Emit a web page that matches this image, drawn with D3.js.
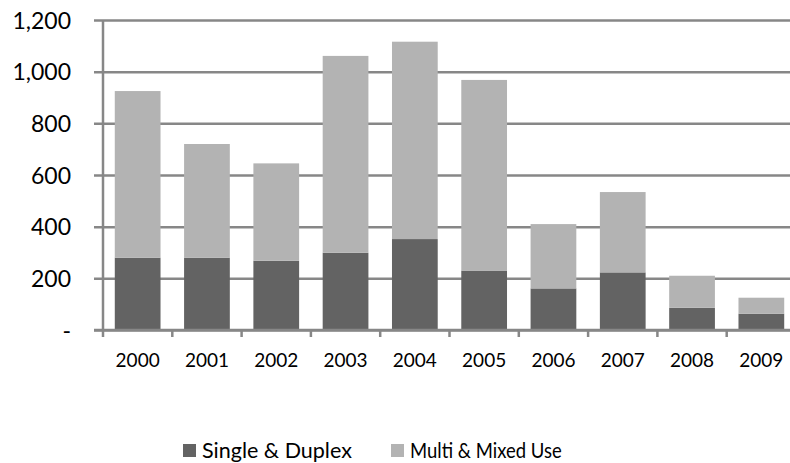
<!DOCTYPE html>
<html>
<head>
<meta charset="utf-8">
<script src="https://cdn.jsdelivr.net/npm/d3@7"></script>
<style>
  html, body { margin: 0; padding: 0; background: #fff; }
  svg { display: block; }
  text { font-family: Lato, "Open Sans", sans-serif; fill: #000; }
</style>
</head>
<body>
<svg id="chart" width="790" height="463"></svg>
<script>
// Permits by year, split by housing type
const years = ["2000","2001","2002","2003","2004","2005","2006","2007","2008","2009"];
const singleDuplex = [280, 280, 268, 299, 352, 230, 161, 223, 86, 63];
const multiMixed   = [645, 440, 377, 762, 764, 738, 249, 311, 124, 62];
const seriesNames  = ["Single & Duplex", "Multi & Mixed Use"];
const seriesColors = ["#636363", "#b3b3b3"];
const yTicks = [0, 200, 400, 600, 800, 1000, 1200];

const svg = d3.select("#chart");
const plotLeft = 103, plotRight = 796, plotTop = 20, plotBottom = 330;

const x = d3.scaleBand().domain(years).range([plotLeft, plotRight]).paddingInner(0.34).paddingOuter(0.17);
const y = d3.scaleLinear().domain([0, 1200]).range([plotBottom, plotTop]);

const gridColor = "#878787";

// horizontal gridlines + y labels
const yAxis = d3.axisLeft(y).tickValues(yTicks).tickSize(-(790 - plotLeft)).tickSizeOuter(0)
  .tickFormat(d => d === 0 ? "-" : d3.format(",")(d));
const gy = svg.append("g").attr("transform", `translate(${plotLeft},0)`).call(yAxis);
gy.select(".domain").remove();
gy.selectAll(".tick line").attr("stroke", gridColor).attr("stroke-width", 2.5).attr("x1", -9);
gy.selectAll(".tick text").attr("x", -32).attr("dy", "0.36em")
  .style("font-size", "23px").style("font-family", "Lato, sans-serif").attr("fill", "#000");

// stacked bars
const rows = years.map((yr, i) => ({ year: yr, single: singleDuplex[i], multi: multiMixed[i] }));
const stack = d3.stack().keys(["single", "multi"])(rows);
svg.append("g").selectAll("g").data(stack).join("g")
  .attr("fill", (d, i) => seriesColors[i])
  .selectAll("rect").data(d => d).join("rect")
  .attr("x", d => x(d.data.year))
  .attr("width", x.bandwidth())
  .attr("y", d => y(d[1]))
  .attr("height", d => y(d[0]) - y(d[1]));

// x axis
const xAxis = d3.axisBottom(x).tickSize(0);
const gx = svg.append("g").attr("transform", `translate(0,${plotBottom})`).call(xAxis);
gx.select(".domain").remove();
gx.selectAll(".tick text").attr("y", 37).attr("dy", 0)
  .style("font-size", "19px").style("font-family", "Lato, sans-serif").attr("fill", "#000");

// baseline, vertical axis and category boundary ticks
svg.append("line").attr("x1", plotLeft - 9).attr("x2", 790).attr("y1", plotBottom).attr("y2", plotBottom)
  .attr("stroke", gridColor).attr("stroke-width", 2.5);
svg.append("line").attr("x1", plotLeft).attr("x2", plotLeft).attr("y1", plotTop).attr("y2", plotBottom + 7)
  .attr("stroke", gridColor).attr("stroke-width", 2.5);
const step = x.step();
svg.append("g").selectAll("line").data(d3.range(1, years.length)).join("line")
  .attr("x1", i => plotLeft + i * step).attr("x2", i => plotLeft + i * step)
  .attr("y1", plotBottom).attr("y2", plotBottom + 7)
  .attr("stroke", gridColor).attr("stroke-width", 2.5);

// legend; the second label is set a little condensed
const legendX = [183, 391];
const legendSquash = [1, 0.86];
const lg = svg.append("g").selectAll("g").data(seriesNames).join("g")
  .attr("transform", (d, i) => `translate(${legendX[i]},444)`);
lg.append("rect").attr("width", 13).attr("height", 13).attr("fill", (d, i) => seriesColors[i]);
lg.append("g").attr("transform", (d, i) => `translate(19,14) scale(${legendSquash[i]},1)`)
  .append("text").text(d => d)
  .style("font-size", "21.5px").style("font-family", "Lato, sans-serif");
</script>
</body>
</html>
